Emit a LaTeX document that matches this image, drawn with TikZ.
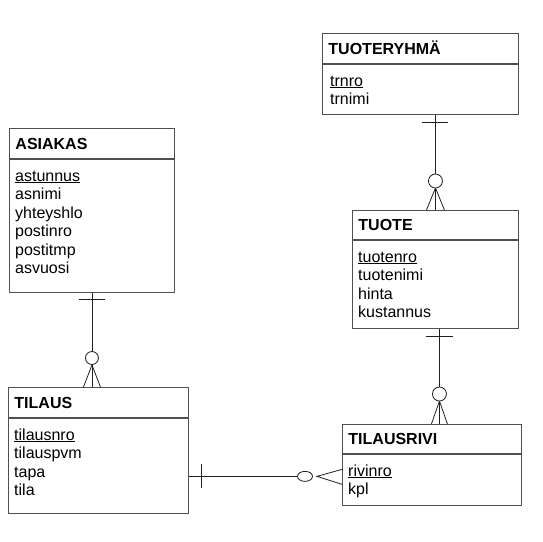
\documentclass[tikz,border=0pt]{standalone}
\usepackage{fontspec}
\setmainfont{Liberation Sans}
\usepackage{tikz}
\usetikzlibrary{positioning,calc}
\definecolor{boxline}{HTML}{505050}
\definecolor{relline}{HTML}{202020}

\begin{document}
\begin{tikzpicture}[x=1pt,y=-1pt,
    ttl/.style={draw=boxline,line width=0.9pt,anchor=north west,minimum height=30,text height=11.5,text depth=0,inner xsep=6,inner ysep=0,align=left,font=\fontsize{16}{18.5}\selectfont\bfseries},
    body/.style={draw=boxline,line width=0.9pt,inner sep=0},
    attrs/.style={anchor=north west,inner sep=0,align=left,font=\fontsize{16}{18.5}\selectfont},
    conn/.style={draw=relline,line width=0.8pt}]
    \useasboundingbox (0,0) rectangle (543,541);

    % entities
    \node[ttl,text width=184] (ryhmaT) at (322,33) {TUOTERYHMÄ};
    \node[body,below=0pt of ryhmaT,minimum width=196,minimum height=50] (ryhmaB) {};
    \node[attrs] (ryhmaL) at ($(ryhmaB.north west)+(8,9)$) {\strut\underline{trnro}\\trnimi};

    \node[ttl,text width=153] (asiakasT) at (9,128) {ASIAKAS};
    \node[body,below=0pt of asiakasT,minimum width=165,minimum height=133] (asiakasB) {};
    \node[attrs] (asiakasL) at ($(asiakasB.north west)+(6,9)$) {\strut\underline{astunnus}\\asnimi\\yhteyshlo\\postinro\\postitmp\\asvuosi};

    \node[ttl,text width=154,minimum height=29] (tuoteT) at (352,210) {TUOTE};
    \node[body,below=0pt of tuoteT,minimum width=166,minimum height=88] (tuoteB) {};
    \node[attrs] (tuoteL) at ($(tuoteB.north west)+(6,9)$) {\strut\underline{tuotenro}\\tuotenimi\\hinta\\kustannus};

    \node[ttl,text width=168] (tilausT) at (8,387) {TILAUS};
    \node[body,below=0pt of tilausT,minimum width=180,minimum height=95] (tilausB) {};
    \node[attrs] (tilausL) at ($(tilausB.north west)+(6,9)$) {\strut\underline{tilausnro}\\tilauspvm\\tapa\\tila};

    \node[ttl,text width=167,minimum height=29] (rivinT) at (342,424) {TILAUSRIVI};
    \node[body,below=0pt of rivinT,minimum width=179,minimum height=51] (rivinB) {};
    \node[attrs] (rivinL) at ($(rivinB.north west)+(6,9)$) {\strut\underline{rivinro}\\kpl};

    % ASIAKAS -- TILAUS
    \coordinate (a1) at (asiakasB.south);
    \coordinate (a2) at (asiakasB.south |- tilausT.north);
    \draw[conn] (a1) -- (a2);
    \draw[conn] ($(a1)+(-13,7)$) -- ($(a1)+(13,7)$);
    \draw[conn] ($(a2)+(-8.5,0)$) -- ($(a2)+(0,-22)$) -- ($(a2)+(8.5,0)$);
    \draw[conn,fill=white] ($(a2)+(0,-29)$) circle (6.5);

    % TUOTERYHMA -- TUOTE
    \coordinate (b2) at (tuoteT.north);
    \coordinate (b1) at (ryhmaB.south -| tuoteT.north);
    \draw[conn] (b1) -- (b2);
    \draw[conn] ($(b1)+(-13,8)$) -- ($(b1)+(13,8)$);
    \draw[conn] ($(b2)+(-9,0)$) -- ($(b2)+(0,-22)$) -- ($(b2)+(9,0)$);
    \draw[conn,fill=white] ($(b2)+(0,-29)$) circle (7);

    % TUOTE -- TILAUSRIVI
    \coordinate (c1) at ($(tuoteB.south)+(4,0)$);
    \coordinate (c2) at (c1 |- rivinT.north);
    \draw[conn] (c1) -- (c2);
    \draw[conn] ($(c1)+(-13.5,8)$) -- ($(c1)+(13.5,8)$);
    \draw[conn] ($(c2)+(-8,0)$) -- ($(c2)+(0,-23)$) -- ($(c2)+(8,0)$);
    \draw[conn,fill=white] ($(c2)+(0,-30)$) circle (7);

    % TILAUS -- TILAUSRIVI
    \coordinate (d2) at ($(rivinB.west)+(0,-3.5)$);
    \coordinate (d1) at (d2 -| tilausB.east);
    \draw[conn] (d1) -- ($(d2)+(-37,0)$);
    \draw[conn] ($(d1)+(12,-12)$) -- ($(d1)+(12,12)$);
    \draw[conn] ($(d2)+(0,-7)$) -- ($(d2)+(-25,0)$) -- ($(d2)+(0,8)$);
    \draw[conn,fill=white] ($(d2)+(-37,0)$) ellipse (7.5 and 5);
\end{tikzpicture}
\end{document}
